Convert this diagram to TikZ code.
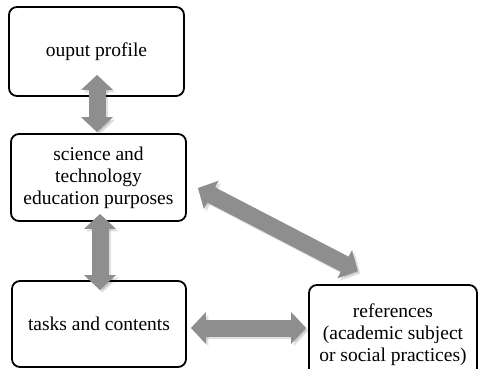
\documentclass[tikz,border=0pt]{standalone}
\usepackage{fontspec}
\setmainfont{Liberation Serif}
\usetikzlibrary{arrows.meta,calc}
\definecolor{arrowgray}{HTML}{8E8E8E}
\begin{document}
\begin{tikzpicture}[x=1pt,y=-1pt,
  box/.style={draw=black, line width=1.8pt, rounded corners=8pt, fill=white,
    align=center, font=\fontsize{19.5}{22}\selectfont, inner sep=0pt},
  fat/.style={line width=17pt, draw=arrowgray,
    {Triangle[length=15pt,width=31pt]}-{Triangle[length=15pt,width=31pt]}},
  shade/.style={fat, draw=black, opacity=0.12}]
\useasboundingbox (0,0) rectangle (480,369);
\node[box, minimum width=175pt, minimum height=89pt] (op) at (96.5,51.5) {ouput profile};
\node[box, minimum width=175pt, minimum height=87pt] (sc) at (98.5,177.5) {science and\\technology\\education purposes};
\node[box, minimum width=174pt, minimum height=86pt] (tc) at (99,324) {tasks and contents};
\node[box, minimum width=168pt, minimum height=100pt] (rf) at (393,335) {references\\(academic subject\\or social practices)};
\coordinate (a1) at ($(op.south)+(0.5,-22)$);
\coordinate (b1) at ($(sc.north)+(-1.5,-1)$);
\coordinate (a2) at ($(sc.south)+(1.5,-8)$);
\coordinate (b2) at ($(tc.north)+(1,10)$);
\coordinate (a3) at ($(sc.east)+(11,10.5)$);
\coordinate (b3) at ($(rf.north)+(-35,-13)$);
\coordinate (a4) at ($(tc.east)+(4,4)$);
\coordinate (b4) at ($(rf.west)+(-2,-7)$);
\begin{scope}[transform canvas={shift={(2.5pt,-2.5pt)}}]
  \draw[shade] (a1) -- (b1);
  \draw[shade] (a2) -- (b2);
  \draw[shade] (a3) -- (b3);
  \draw[shade] (a4) -- (b4);
\end{scope}
\draw[fat] (a1) -- (b1);
\draw[fat] (a2) -- (b2);
\draw[fat] (a3) -- (b3);
\draw[fat] (a4) -- (b4);
\end{tikzpicture}
\end{document}
